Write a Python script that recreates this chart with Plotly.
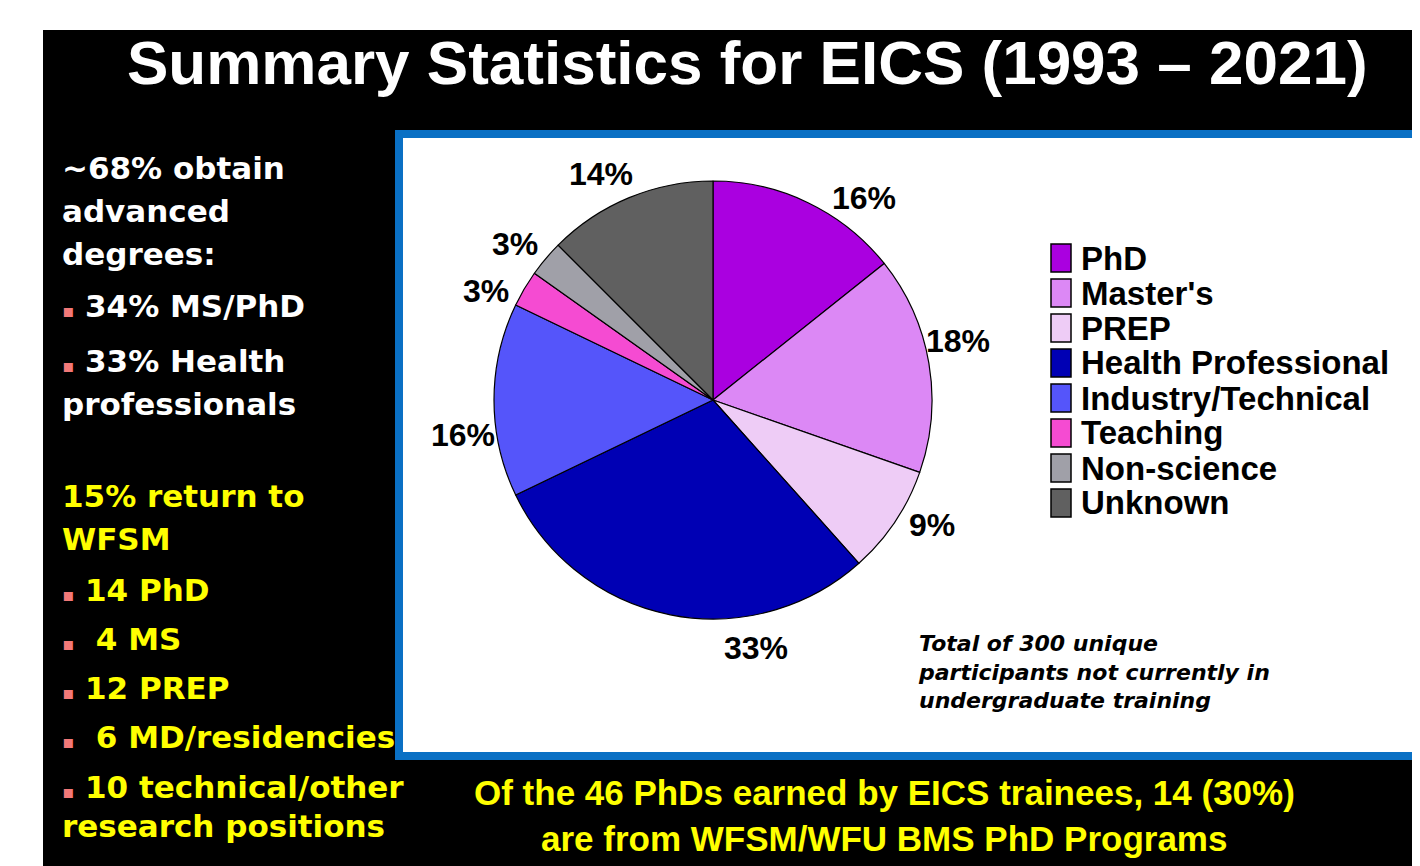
import math
import plotly.graph_objects as go

W, H = 1420, 866
OFF = 8  # page body margin in the browser

# ---- data ----
categories = ["PhD", "Master's", "PREP", "Health Professional", "Industry/Technical",
              "Teaching", "Non-science", "Unknown"]
percents = [16, 18, 9, 33, 16, 3, 3, 14]
colors = ["#AA00E0", "#DC88F5", "#EECCF6", "#0000B4", "#5555FA", "#F54BD2", "#A0A0A8", "#606060"]

title_text = "Summary Statistics for EICS (1993 \u2013 2021)"
white_lines = ["~68% obtain", "advanced", "degrees:", "\u25aa 34% MS/PhD", "\u25aa 33% Health", "professionals"]
yellow_lines = ["15% return to", "WFSM", "\u25aa 14 PhD", "\u25aa  4 MS", "\u25aa 12 PREP",
                "\u25aa  6 MD/residencies", "\u25aa 10 technical/other", "research positions"]
note_text = "Total of 300 unique<br>participants not currently in<br>undergraduate training"
bottom_lines = ["Of the 46 PhDs earned by EICS trainees, 14 (30%)",
                "are from WFSM/WFU BMS PhD Programs"]

# ---- layout helpers (page pixel -> paper) ----
FW, FH = W - OFF, H - OFF

def px(x):
    return (x - OFF) / FW

def py(y):
    return 1 - (y - OFF) / FH

white_y = [168, 211, 254, 306, 361, 404]
yellow_y = [496, 539, 590, 639, 688, 737, 787, 826]

CX, CY, R = 713, 400, 219
LABEL_DIST = 252
label_nudge_deg = [11, -4, -4, -21, -8, -5, -2, -4]  # angular placement tweaks for labels

fig = go.Figure()

fig.add_trace(go.Pie(
    labels=categories,
    values=percents,
    sort=False,
    direction="clockwise",
    rotation=0,
    marker=dict(colors=colors, line=dict(color="black", width=1.2)),
    textinfo="none",
    domain=dict(x=[px(CX - R), px(CX + R)], y=[py(CY + R), py(CY - R)]),
    showlegend=False,
    hoverinfo="skip",
))

shapes = []
shapes.append(dict(type="rect", xref="paper", yref="paper", x0=px(43), x1=1, y0=0, y1=py(30),
                   fillcolor="black", line=dict(width=0), layer="below"))
shapes.append(dict(type="rect", xref="paper", yref="paper", x0=px(399), x1=px(1416), y0=py(756), y1=py(134),
                   fillcolor="white", line=dict(color="#0A70C4", width=8), layer="below"))

annotations = []
annotations.append(dict(text=title_text, x=px(747), y=py(63), xref="paper", yref="paper",
                        xanchor="center", yanchor="middle", showarrow=False,
                        font=dict(family="Liberation Sans, Arial", size=62, color="white", weight="bold")))

# slice labels, placed at the slice mid-angle derived from the data
total = sum(percents)
cum = 0
for v, nudge in zip(percents, label_nudge_deg):
    mid = (cum + v / 2) / total * 360 + nudge
    cum += v
    a = math.radians(mid)
    lx = CX + LABEL_DIST * math.sin(a)
    ly = CY - LABEL_DIST * math.cos(a)
    annotations.append(dict(text=f"{v}%", x=px(lx), y=py(ly), xref="paper", yref="paper",
                            xanchor="center", yanchor="middle", showarrow=False,
                            font=dict(family="Liberation Sans, Arial", size=32, color="black", weight="bold")))

bullet_span = '<span style="color:#F27878;font-size:18px">\u25aa</span>'

def left_line(t):
    if t.startswith("\u25aa"):
        return bullet_span + t[1:]
    return t

for t, y in zip(white_lines, white_y):
    annotations.append(dict(text=left_line(t), x=px(60), y=py(y), xref="paper", yref="paper",
                            xanchor="left", yanchor="middle", showarrow=False,
                            font=dict(family="DejaVu Sans", size=31, color="white", weight="bold")))
for t, y in zip(yellow_lines, yellow_y):
    annotations.append(dict(text=left_line(t), x=px(60), y=py(y), xref="paper", yref="paper",
                            xanchor="left", yanchor="middle", showarrow=False,
                            font=dict(family="DejaVu Sans", size=31, color="#FFFF00", weight="bold")))

# legend (manual, large swatches)
leg_y0, leg_dy = 258, 35
for i, (c, name) in enumerate(zip(colors, categories)):
    yc = leg_y0 + i * leg_dy
    shapes.append(dict(type="rect", xref="paper", yref="paper", x0=px(1051), x1=px(1071),
                       y0=py(yc + 14), y1=py(yc - 14), fillcolor=c, line=dict(color="black", width=1.5)))
    annotations.append(dict(text=name, x=px(1079), y=py(yc), xref="paper", yref="paper",
                            xanchor="left", yanchor="middle", showarrow=False,
                            font=dict(family="Liberation Sans, Arial", size=33, color="black", weight="bold")))

annotations.append(dict(text=note_text, x=px(916), y=py(672), xref="paper", yref="paper",
                        xanchor="left", yanchor="middle", align="left", showarrow=False,
                        font=dict(family="DejaVu Sans", size=22, color="black", weight="bold", style="italic")))

for t, y in zip(bottom_lines, [792, 838]):
    annotations.append(dict(text=t, x=px(884), y=py(y), xref="paper", yref="paper",
                            xanchor="center", yanchor="middle", showarrow=False,
                            font=dict(family="Liberation Sans, Arial", size=35, color="#FFFF00", weight="bold")))

fig.update_layout(
    width=FW, height=FH,
    margin=dict(l=0, r=0, t=0, b=0),
    paper_bgcolor="white", plot_bgcolor="white",
    shapes=shapes, annotations=annotations,
    showlegend=False,
)

fig.write_html("out.html")
